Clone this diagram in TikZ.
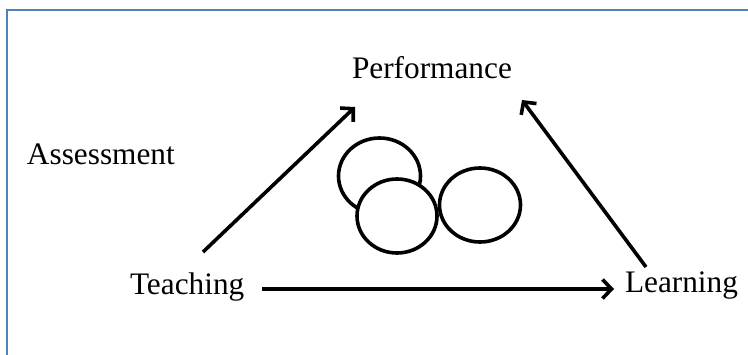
\documentclass[tikz,border=0pt]{standalone}
\usepackage{fontspec}
\setmainfont{Liberation Serif}
\usetikzlibrary{arrows.meta}
\definecolor{frameblue}{RGB}{79,129,189}
\tikzset{
  lbl/.style={anchor=base west, inner sep=0pt, outer sep=0pt, font=\fontsize{31.3}{36}\selectfont},
  arr/.style={line width=3.6pt, -{Straight Barb[length=9pt,width=19pt,line width=3.6pt]}},
  ring/.style={line width=3.6pt, draw=black, fill=white}
}
\begin{document}
\begin{tikzpicture}[x=1pt,y=-1pt]
\useasboundingbox (0,0) rectangle (748,355);
\draw[frameblue, line width=2.5pt] (7,360) -- (7,10) -- (752,10);
\node[lbl] (perf) at (352,79) {Performance};
\node[lbl] (assess) at (27,165) {Assessment};
\node[lbl] (teach) at (130,295) {Teaching};
\node[lbl] (learn) at (625,293) {Learning};
\coordinate (a1s) at (203,252);
\coordinate (a1e) at (355,107);
\coordinate (a2s) at (646,267);
\coordinate (a2e) at (522,100);
\coordinate (a3s) at (262,289);
\coordinate (a3e) at (614,289);
\draw[arr] (a1s) -- (a1e);
\draw[arr] (a2s) -- (a2e);
\draw[arr] (a3s) -- (a3e);
\draw[ring] (379.5,176) ellipse [x radius=41, y radius=38];
\draw[ring] (397,216) ellipse [x radius=40, y radius=37];
\draw[ring] (480,205) ellipse [x radius=40.5, y radius=37];
\end{tikzpicture}
\end{document}
